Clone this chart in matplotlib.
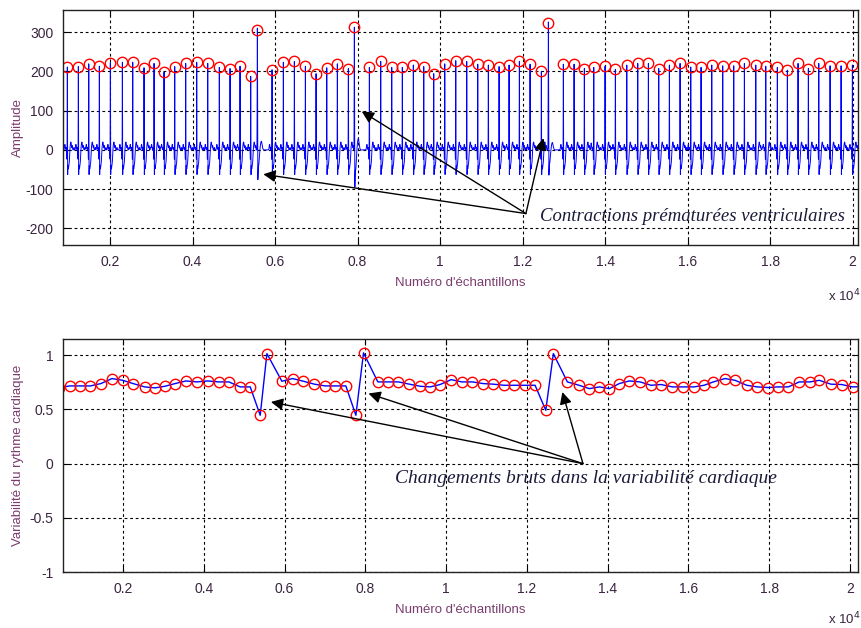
import numpy as np
import matplotlib
matplotlib.use("Agg")
import matplotlib.pyplot as plt
from matplotlib.ticker import FuncFormatter, FixedLocator

plt.rcParams['font.family'] = ['Liberation Sans Narrow', 'Liberation Sans', 'DejaVu Sans']
plt.rcParams['axes.unicode_minus'] = False

# R-peak positions (samples) and amplitudes of the ECG record
peak_pos = [965, 1232, 1484, 1741, 2008, 2299, 2550, 2824, 3067, 3309,
            3568, 3834, 4101, 4368, 4649, 4909, 5151, 5410, 5571, 5927,
            6201, 6468, 6735, 6994, 7253, 7510, 7777, 7922, 8286, 8561,
            8828, 9085, 9352, 9604, 9846, 10113, 10380, 10646, 10913, 11170,
            11430, 11672, 11922, 12181, 12455, 12625, 12988, 13248, 13497, 13725,
            13999, 14249, 14525, 14791, 15049, 15300, 15558, 15817, 16076, 16326,
            16585, 16851, 17118, 17376, 17652, 17894, 18175, 18418, 18677, 18927,
            19179, 19453, 19720, 19994]
peak_amp = [211, 212, 219, 213, 222, 223, 223, 209, 220, 198,
            212, 220, 223, 220, 210, 207, 213, 187, 304, 204,
            223, 225, 213, 194, 209, 219, 207, 312, 210, 225,
            210, 210, 216, 212, 194, 219, 227, 225, 218, 216,
            212, 216, 225, 218, 200, 324, 218, 218, 207, 210,
            213, 205, 216, 220, 220, 207, 216, 220, 211, 210,
            216, 214, 214, 220, 216, 213, 210, 203, 220, 207,
            220, 214, 214, 216]

# Heart-rate variability (RR interval, s) at each detected beat
hrv_pos = [420, 678, 943, 1191, 1456, 1728, 1990, 2248, 2535, 2800, 3040,
           3294, 3559, 3832, 4094, 4366, 4624, 4903, 5151, 5398, 5564,
           5935, 6198, 6470, 6742, 7007, 7254, 7519, 7767, 7956, 8311,
           8574, 8822, 9094, 9358, 9606, 9853, 10126, 10390, 10653, 10910,
           11173, 11437, 11692, 11957, 12204, 12469, 12657, 13004, 13293, 13548,
           13796, 14044, 14291, 14539, 14803, 15075, 15323, 15603, 15875, 16140,
           16387, 16618, 16907, 17155, 17444, 17706, 17979, 18211, 18474, 18746,
           19011, 19241, 19530, 19795, 20067, 20330]
hrv_val = [0.700, 0.717, 0.717, 0.717, 0.739, 0.785, 0.769, 0.739, 0.708, 0.699, 0.714,
           0.739, 0.763, 0.754, 0.763, 0.754, 0.754, 0.708, 0.708, 0.446, 1.015,
           0.760, 0.785, 0.760, 0.733, 0.717, 0.717, 0.717, 0.446, 1.022, 0.754,
           0.754, 0.754, 0.733, 0.714, 0.708, 0.730, 0.775, 0.754, 0.754, 0.739,
           0.733, 0.723, 0.723, 0.723, 0.723, 0.492, 1.015, 0.754, 0.723, 0.692,
           0.708, 0.692, 0.739, 0.763, 0.754, 0.723, 0.730, 0.708, 0.708, 0.708,
           0.723, 0.754, 0.785, 0.769, 0.723, 0.708, 0.702, 0.708, 0.708, 0.754,
           0.754, 0.769, 0.733, 0.730, 0.708, 0.710]

x_ticks = [2000, 4000, 6000, 8000, 10000, 12000, 14000, 16000, 18000, 20000]
y1_ticks = [-200, -100, 0, 100, 200, 300]
y2_ticks = [-1, -0.5, 0, 0.5, 1]

# Beat waveform shapes: (offset in samples, relative amplitude, width in samples)
normal_wave = [(-60, 14, 9), (-30, 6, 4), (-8, -22, 2.5), (7, -42, 3),
               (24, -48, 14), (48, -20, 8), (85, 20, 14), (120, 10, 5), (160, 6, 6)]
pvc_wave = [(-6, -12, 3), (10, -62, 6), (30, -40, 16), (95, 22, 20)]
pvc_depth = {5571: 1.0, 7922: 1.3, 12625: 0.85}

n = np.arange(0, 20300)
ecg = np.zeros(n.size)
for p, a in zip(peak_pos, peak_amp):
    is_pvc = a > 280
    wave = pvc_wave if is_pvc else normal_wave
    k = pvc_depth.get(p, 1.0)
    r_width = 4.0 if is_pvc else 2.6
    others = sum(k * amp * np.exp(-0.5 * (off / w) ** 2) for off, amp, w in wave)
    ecg += (a - others) * np.exp(-0.5 * ((n - p) / r_width) ** 2)
    for off, amp, w in wave:
        ecg += k * amp * np.exp(-0.5 * ((n - p - off) / w) ** 2)

tick_color = '#3a2440'
label_color = '#7a3d6e'
fmt = FuncFormatter(lambda v, _: f'{v / 1e4:g}')


def style_axes(ax):
    ax.grid(True, linestyle=(0, (2.5, 2.5)), color='black', linewidth=0.8)
    ax.tick_params(direction='in', length=4, width=0.8, top=True, right=True,
                   labelsize=10, colors='black', labelcolor=tick_color, pad=7)
    for s in ax.spines.values():
        s.set_linewidth(1.0)
        s.set_color('#222222')
    ax.xaxis.set_major_locator(FixedLocator(x_ticks))
    ax.xaxis.set_major_formatter(fmt)
    ax.set_axisbelow(True)


fig = plt.figure(figsize=(8.61, 6.28), dpi=100)
W, H = 861, 628
ax1 = fig.add_axes([63 / W, 1 - 245 / H, (858 - 63) / W, (245 - 10) / H])
ax2 = fig.add_axes([63 / W, 1 - 572 / H, (858 - 63) / W, (572 - 339) / H])

# Top: ECG with detected R peaks
ax1.plot(n, ecg, color='#0000ff', linewidth=0.7)
ax1.plot(peak_pos, peak_amp, 'o', markersize=7.5, markerfacecolor='none',
         markeredgecolor='#ff0000', markeredgewidth=1.0)
ax1.set_xlim(860, 20130)
ax1.set_ylim(-242, 356)
ax1.yaxis.set_major_locator(FixedLocator(y1_ticks))
style_axes(ax1)
ax1.set_ylabel('Amplitude', fontsize=9.5, color=label_color)
ax1.yaxis.set_label_coords(-0.049, 0.5)
ax1.set_xlabel("Numéro d'échantillons", fontsize=9.5, color=label_color, labelpad=6)

arrow = dict(arrowstyle='-|>', color='black', lw=1.0, mutation_scale=18,
             shrinkA=0, shrinkB=0)
tail1 = (12080, -162)
for tip in [(5716, -62), (8101, 98), (12504, 30)]:
    ax1.annotate('', xy=tip, xytext=tail1, arrowprops=arrow)
ax1.text(12420, -169, 'Contractions prématurées ventriculaires', fontsize=13.5,
         fontstyle='italic', family=['Liberation Serif', 'DejaVu Serif'],
         color='#1a1a3a', va='center', ha='left')

# Bottom: heart-rate variability
ax2.plot(hrv_pos, hrv_val, '-', color='#0000ff', linewidth=1.0)
ax2.plot(hrv_pos, hrv_val, 'o', markersize=7.5, markerfacecolor='none',
         markeredgecolor='#ff0000', markeredgewidth=1.0)
ax2.set_xlim(515, 20200)
ax2.set_ylim(-1, 1.15)
ax2.yaxis.set_major_locator(FixedLocator(y2_ticks))
ax2.yaxis.set_major_formatter(FuncFormatter(lambda v, _: f'{v:g}'))
style_axes(ax2)
ax2.set_ylabel('Variabilité du rythme cardiaque', fontsize=9.5, color=label_color)
ax2.yaxis.set_label_coords(-0.049, 0.5)
ax2.set_xlabel("Numéro d'échantillons", fontsize=9.5, color=label_color, labelpad=6)

tail2 = (13390, 0.0)
for tip in [(5663, 0.569), (8079, 0.647), (12880, 0.661)]:
    ax2.annotate('', xy=tip, xytext=tail2, arrowprops=arrow)
ax2.text(8740, -0.135, 'Changements bruts dans la variabilité cardiaque', fontsize=14,
         fontstyle='italic', family=['Liberation Serif', 'DejaVu Serif'],
         color='#1a1a3a', va='center', ha='left')

fig.text(828 / W, 1 - 296 / H, r'x 10$^4$', fontsize=9.5, color=tick_color, va='center')
fig.text(828 / W, 1 - 619 / H, r'x 10$^4$', fontsize=9.5, color=tick_color, va='center')

fig.savefig('out.png', dpi=100)
